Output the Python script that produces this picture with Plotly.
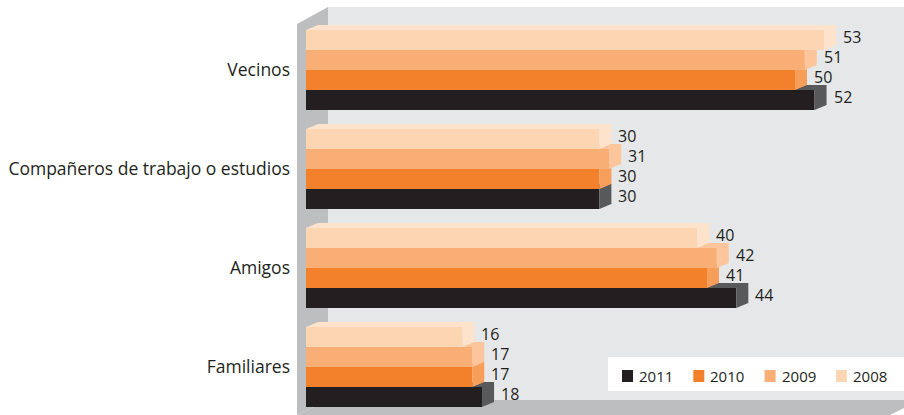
import plotly.graph_objects as go

categories = ["Vecinos", "Compañeros de trabajo o estudios", "Amigos", "Familiares"]
years = ["2011", "2010", "2009", "2008"]
v2011 = [52, 30, 44, 18]
v2010 = [50, 30, 41, 17]
v2009 = [51, 31, 42, 17]
v2008 = [53, 30, 40, 16]

series = {"2011": v2011, "2010": v2010, "2009": v2009, "2008": v2008}
front_colors = {"2011": "#231f20", "2010": "#f3802b", "2009": "#f9ae76", "2008": "#fcd5b2"}
cap_colors = {"2011": "#58595b", "2010": "#f89e5b", "2009": "#fcc59b", "2008": "#fde3cb"}

FONT = "Open Sans"
TXT = "#231f20"

# page geometry (pixels)
W, H = 904, 415
LEFT = 297           # left edge of the chart box (side wall)
ZERO_PX = 306        # where value 0 sits
PX_UNIT = 9.78       # pixels per percentage point
FIRST_PX = 70        # centre of first group
GROUP_PX = 99        # distance between groups

bar_h = 20 / GROUP_PX
dx = 12 / PX_UNIT     # depth of the 3d caps in data units
dy = -5 / GROUP_PX    # (y axis reversed, up is negative)


def paper(x, y):
    return (x - LEFT) / (W - LEFT), 1 - y / H


def path(points):
    pts = [paper(x, y) for x, y in points]
    return "M " + " L ".join(f"{a:.5f},{b:.5f}" for a, b in pts) + " Z"


fig = go.Figure()

# bottom series first so upper bars overlap the hidden top faces
for year in years:
    j = 3 - years.index(year)   # 0 = 2008 on top of each group
    fx, fy, cx, cy = [], [], [], []
    for i, v in enumerate(series[year]):
        c = i + (j - 1.5) * bar_h
        top, bot = c - bar_h / 2, c + bar_h / 2
        fx += [0, v, v, 0, 0, None]
        fy += [bot, bot, top, top, bot, None]
        cx += [0, dx, v + dx, v + dx, v, v, 0, None]
        cy += [top, top + dy, top + dy, bot + dy, bot, top, top, None]
        fig.add_annotation(x=v, y=c, text=str(v), showarrow=False, xanchor="left",
                           xshift=17, yshift=3, font=dict(family=FONT, size=16, color=TXT))
    fig.add_trace(go.Scatter(x=fx, y=fy, fill="toself", mode="lines", line=dict(width=0),
                             fillcolor=front_colors[year], hoverinfo="skip", showlegend=False,
                             name=year))
    fig.add_trace(go.Scatter(x=cx, y=cy, fill="toself", mode="lines", line=dict(width=0),
                             fillcolor=cap_colors[year], hoverinfo="skip", showlegend=False))

# walls, floor and legend box
shapes = [
    dict(type="path", path=path([(328, 7), (904, 7), (904, 400), (328, 400)]), fillcolor="#e6e7e8"),
    dict(type="path", path=path([(297, 24), (328, 7), (328, 400), (297, 415)]), fillcolor="#bcbec0"),
    dict(type="path", path=path([(297, 415), (328, 400), (904, 400), (904, 408), (890, 415)]),
         fillcolor="#bcbec0"),
    dict(type="path", path=path([(608, 357), (904, 357), (904, 391), (608, 391)]), fillcolor="white"),
]

# legend: square + label per year
for k, year in enumerate(years):
    sx = 622 + 71.3 * k
    shapes.append(dict(type="path", path=path([(sx, 370), (sx + 11, 370), (sx + 11, 382), (sx, 382)]),
                       fillcolor=front_colors[year]))
    lx, ly = paper(sx + 15, 376)
    fig.add_annotation(x=lx, y=ly, xref="paper", yref="paper", text=year, showarrow=False,
                       xanchor="left", yanchor="middle",
                       font=dict(family=FONT, size=15, color=TXT))

for s in shapes:
    s.update(xref="paper", yref="paper", layer="below", line=dict(width=0))

fig.update_layout(
    width=W, height=H,
    margin=dict(l=LEFT, r=0, t=0, b=0),
    paper_bgcolor="white", plot_bgcolor="white",
    shapes=shapes,
    showlegend=False,
    xaxis=dict(range=[(LEFT - ZERO_PX) / PX_UNIT, (W - ZERO_PX) / PX_UNIT], visible=False),
    yaxis=dict(range=[(H - FIRST_PX) / GROUP_PX, -FIRST_PX / GROUP_PX],
               tickvals=list(range(len(categories))), ticktext=categories,
               ticks="", showgrid=False, zeroline=False, showline=False,
               ticklabelstandoff=6, tickfont=dict(family=FONT, size=17.5, color=TXT)),
)

fig.write_html("out.html", config={"displayModeBar": False},
               post_script="document.body.style.margin='0';")
